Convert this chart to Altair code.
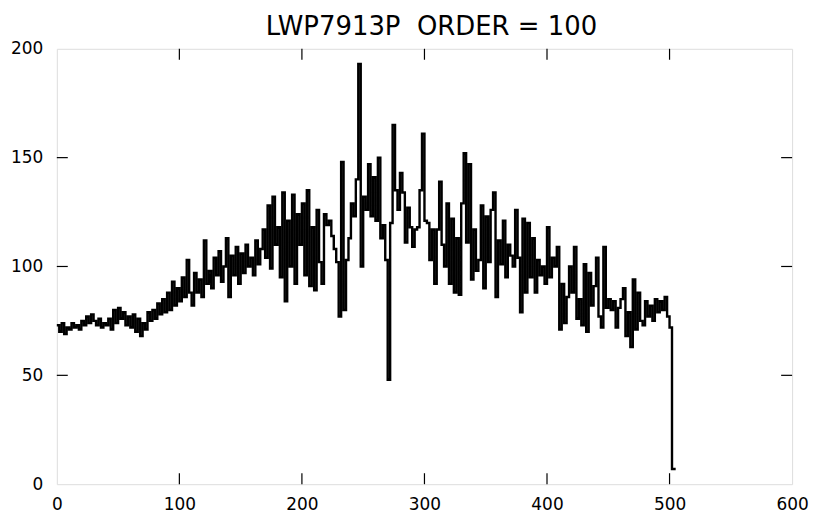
import altair as alt
import pandas as pd

# Series sampled every 2 units from 0 to 498, then the tail with the drop near 502
values = [
    73, 70, 74, 69, 72,   71, 74, 72, 73, 71,
    75, 73, 77, 74, 78,   75, 73, 76, 72, 74,
    73, 76, 71, 80, 74,   81, 76, 79, 73, 77,
    72, 78, 70, 76, 68,   74, 71, 79, 75, 80,
    76, 83, 78, 85, 79,   88, 80, 93, 82, 90,
    84, 95, 86, 103, 88,  82, 97, 88, 94, 86,
    112, 92, 98, 90, 104, 96, 107, 93, 100, 113,
    86, 105, 96, 109, 92, 106, 97, 110, 100, 104,
    96, 112, 101, 108, 117, 104, 128, 99, 132, 110,
    118, 95, 134, 84, 121, 100, 133, 92, 124, 110,
    129, 96, 135, 91, 118, 89, 126, 102, 92, 124,
    119, 121, 114, 108, 102, 77, 148, 80, 103, 113,
    129, 123, 140, 193, 100, 132, 126, 147, 123, 141,
    121, 150, 113, 119, 103, 48, 120, 165, 135, 126,
    143, 134, 111, 127, 118, 109, 117, 118, 135, 161,
    121, 120, 103, 117, 92, 117, 139, 110, 100, 129,
    92, 122, 88, 113, 87, 129, 152, 111, 147, 94,
    117, 98, 103, 128, 90, 123, 102, 126, 134, 86,
    112, 101, 121, 95, 110, 105, 100, 126, 104, 79,
    122, 88, 120, 95, 113, 88, 103, 96, 100, 92,
    118, 95, 104, 100, 109, 71, 92, 74, 86, 100,
    88, 109, 76, 85, 73, 101, 70, 97, 82, 91,
    104, 77, 72, 109, 81, 85, 80, 84, 72, 81,
    85, 90, 68, 79, 63, 94, 71, 88, 75, 73,
    84, 77, 82, 75, 85, 79, 84, 80, 86, 77,
]
x_start = 0
x_step = 2
tail_x = [500, 502, 502, 505]
tail_values = [72, 68, 7, 7]

x_ticks = [100, 200, 300, 400, 500]
y_ticks = [50, 100, 150]
title_text = "LWP7913P\u00a0 ORDER = 100"

xs = [x_start + x_step * k for k in range(len(values))] + tail_x
ys = values + tail_values
df = pd.DataFrame({"x": xs, "y": ys, "i": list(range(len(xs)))})

W, H = 738, 437
FONT = "DejaVu Sans"

xscale = alt.Scale(domain=[0, 600], nice=False, zero=False)
yscale = alt.Scale(domain=[0, 200], nice=False, zero=False)

xaxis = alt.Axis(title=None, values=[0, 100, 200, 300, 400, 500, 600],
                 ticks=False, domain=False, grid=False, labelPadding=12,
                 labelFontSize=17, labelFont=FONT, labelColor="black",
                 labelFlush=False)
yaxis = alt.Axis(title=None, values=[0, 50, 100, 150, 200],
                 ticks=False, domain=False, grid=False, labelPadding=14,
                 labelFontSize=17, labelFont=FONT, labelColor="black",
                 labelFlush=False)

line = alt.Chart(df).mark_line(color="black", strokeWidth=2.4, interpolate="step-after").encode(
    x=alt.X("x:Q", scale=xscale, axis=xaxis),
    y=alt.Y("y:Q", scale=yscale, axis=yaxis),
    order="i:Q",
)

xt = pd.DataFrame({"x": x_ticks})
yt = pd.DataFrame({"y": y_ticks})

bottom_ticks = alt.Chart(xt).mark_rule(color="black", strokeWidth=1.2).encode(
    x=alt.X("x:Q", scale=xscale, axis=xaxis), y=alt.value(H), y2=alt.value(H - 11))
top_ticks = alt.Chart(xt).mark_rule(color="black", strokeWidth=1.2).encode(
    x=alt.X("x:Q", scale=xscale, axis=xaxis), y=alt.value(0), y2=alt.value(11))
left_ticks = alt.Chart(yt).mark_rule(color="black", strokeWidth=1.2).encode(
    y=alt.Y("y:Q", scale=yscale, axis=yaxis), x=alt.value(0), x2=alt.value(11))
right_ticks = alt.Chart(yt).mark_rule(color="black", strokeWidth=1.2).encode(
    y=alt.Y("y:Q", scale=yscale, axis=yaxis), x=alt.value(W), x2=alt.value(W - 11))

chart = alt.layer(line, bottom_ticks, top_ticks, left_ticks, right_ticks).properties(
    width=W, height=H,
    title=alt.TitleParams(title_text, fontSize=26, font=FONT, fontWeight="normal",
                          color="black", anchor="middle", offset=0, dx=7),
    autosize=alt.AutoSizeParams(type="none"),
    padding={"left": 49, "top": 40, "right": 26, "bottom": 30},
).configure_view(stroke="black", strokeWidth=1.5).configure(background="white")

chart.save("out.html", embed_options={"renderer": "svg", "actions": False})
